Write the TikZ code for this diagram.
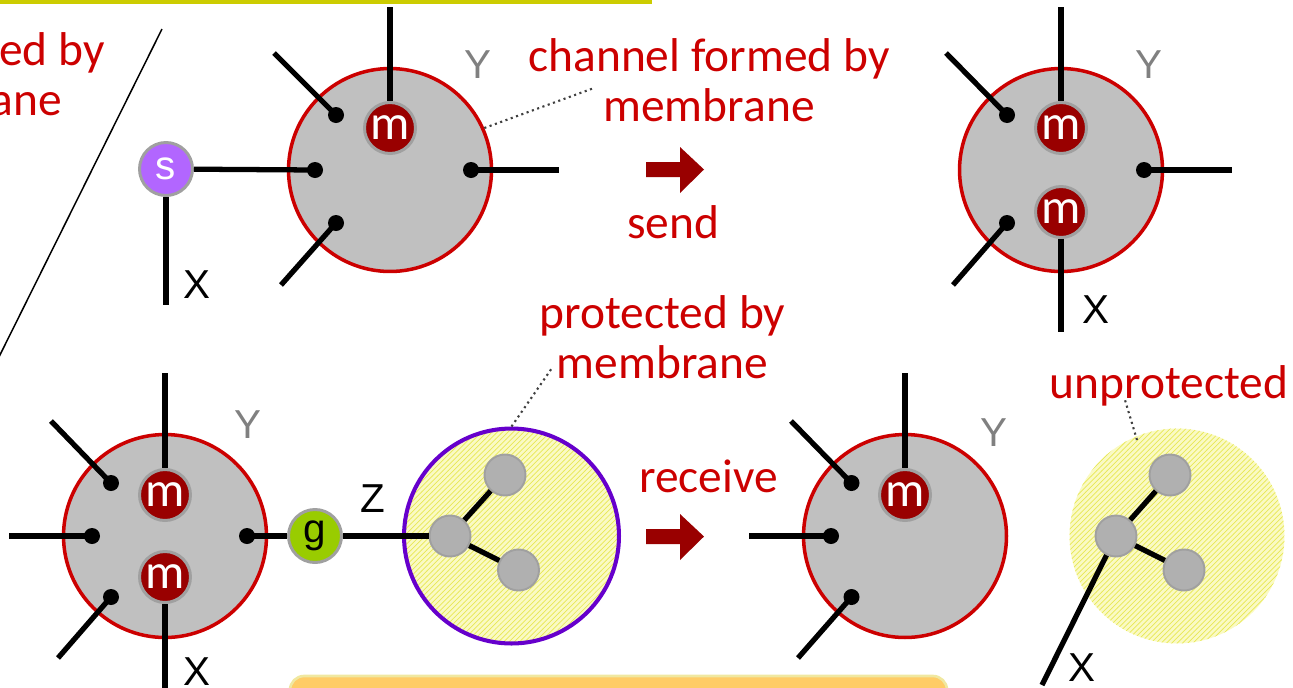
\documentclass[tikz,border=0pt]{standalone}
\usepackage{fontspec}
\setmainfont{Carlito}
\newfontfamily\tagfont{Liberation Sans}
\usetikzlibrary{patterns}

\definecolor{msgred}{RGB}{153,0,0}
\definecolor{notered}{RGB}{204,0,0}
\definecolor{cellgray}{RGB}{192,192,192}
\definecolor{ringgray}{RGB}{160,160,160}
\definecolor{atomgray}{RGB}{176,176,176}
\definecolor{sendpurple}{RGB}{178,102,255}
\definecolor{getgreen}{RGB}{153,204,0}
\definecolor{podviolet}{RGB}{102,0,204}
\definecolor{paleyellow}{RGB}{250,250,196}
\definecolor{hatchyellow}{RGB}{232,232,84}
\definecolor{barolive}{RGB}{204,204,0}
\definecolor{notebox}{RGB}{255,204,102}
\definecolor{noteedge}{RGB}{240,232,160}

\tikzset{
  cell/.style={circle, minimum size=4.06cm, inner sep=0, fill=cellgray, draw=notered, line width=2pt},
  port/.style={circle, minimum size=0.32cm, inner sep=0, fill=black},
  msg/.style={circle, minimum size=1.02cm, inner sep=0, fill=msgred, draw=ringgray, line width=1.7pt,
              text=white, font=\fontsize{28}{28}\selectfont},
  ball/.style={circle, minimum size=1.06cm, inner sep=0, draw=ringgray, line width=1.7pt,
               font=\tagfont\fontsize{23}{23}\selectfont},
  pod/.style={circle, minimum size=4.3cm, inner sep=0,
              preaction={fill=paleyellow}, preaction={pattern=north east lines, pattern color=hatchyellow}},
  atom/.style={circle, minimum size=0.82cm, inner sep=0, fill=atomgray, draw=ringgray, line width=1.1pt},
  wire/.style={line width=3pt},
  tether/.style={dotted, line width=1.2pt, black!75},
  divider/.style={line width=0.85pt},
  note/.style={text=notered, font=\fontsize{27}{28.5}\selectfont, align=center, inner sep=0},
  tag/.style={font=\tagfont\fontsize{23}{23}\selectfont, inner sep=0}
}

\begin{document}
\begin{tikzpicture}[x=0.02cm, y=-0.02cm]
  \useasboundingbox (0,0) rectangle (1293,687);
  \clip (0,0) rectangle (1293,687);

  % header rule, divider and the cut off note on the left
  \fill[barolive] (0,0) rectangle (652,3.5);
  \draw[divider] (162,29) -- (-10,375);
  \node[note, anchor=base east] (left1) at (105,65) {ed by};
  \node[note, anchor=base east] (left2) at (62,115) {ane};

  % send: s on channel X
  \node[ball, fill=sendpurple, text=white] (s) at (166,169) {s};
  \coordinate (sx) at (166,305);
  \draw[wire] (s) -- (sx);
  \node[tag] (xs) at (197,285) {X};

  % membrane Y before send
  \begin{scope}[shift={(390,170)}]
    \node[cell] (y) at (0,0) {};
    \coordinate (ul) at (-116,-117);
    \coordinate (ll) at (-109,115);
    \coordinate (rr) at (169,0);
    \coordinate (tt) at (0,-163);
    \node[port] (p1) at (-54,-55) {};
    \node[port] (p2) at (-75,0) {};
    \node[port] (p3) at (-54,53) {};
    \node[port] (p4) at (81,0) {};
    \draw[wire] (p1.center) -- (ul);
    \draw[wire] (p3.center) -- (ll);
    \draw[wire] (p4.center) -- (rr);
    \draw[wire] (s) -- (p2.center);
    \node[msg] (m1) at (0,-42) {m};
    \draw[wire] (tt) -- (m1);
    \node[tag, text=gray] (ty) at (88,-105) {Y};
    \coordinate (tip) at (204,-82);
    \draw[tether] (y.24) -- (tip);
  \end{scope}
  \node[note] (chan) at (709,80) {channel formed by\\membrane};

  % send arrow
  \fill[msgred] (646,162) -- (680,162) -- (680,147) -- (704,169.5) -- (680,193) -- (680,177) -- (646,177) -- cycle;
  \node[note, anchor=base] (send) at (673,238) {send};

  % membrane Y after send
  \begin{scope}[shift={(1061,170)}]
    \node[cell] (y) at (0,0) {};
    \coordinate (ul) at (-115,-117);
    \coordinate (ll) at (-108,115);
    \coordinate (rr) at (171,0);
    \coordinate (tt) at (0,-163);
    \coordinate (bb) at (0,162);
    \node[port] (p1) at (-54,-55) {};
    \node[port] (p3) at (-54,53) {};
    \node[port] (p4) at (83,0) {};
    \draw[wire] (p1.center) -- (ul);
    \draw[wire] (p3.center) -- (ll);
    \draw[wire] (p4.center) -- (rr);
    \node[msg] (m1) at (0,-42) {m};
    \node[msg] (m2) at (0,42) {m};
    \draw[wire] (tt) -- (m1);
    \draw[wire] (m2) -- (bb);
    \node[tag, text=gray] (ty) at (88,-105) {Y};
    \node[tag] (tx) at (35,140) {X};
  \end{scope}

  % receive: g on channel Z
  \node[ball, fill=getgreen, text=black] (g) at (315,536) {g};
  \node[tag] (tz) at (373,499) {Z};

  % membrane Y before receive
  \begin{scope}[shift={(165,536)}]
    \node[cell] (y) at (0,0) {};
    \coordinate (ul) at (-114,-115);
    \coordinate (ll) at (-107,122);
    \coordinate (lf) at (-156,0);
    \coordinate (tt) at (0,-163);
    \coordinate (bb) at (0,160);
    \node[port] (p1) at (-54,-53) {};
    \node[port] (p2) at (-73,0) {};
    \node[port] (p3) at (-54,61) {};
    \node[port] (p4) at (82,0) {};
    \draw[wire] (p1.center) -- (ul);
    \draw[wire] (p2.center) -- (lf);
    \draw[wire] (p3.center) -- (ll);
    \draw[wire] (p4.center) -- (g);
    \node[msg] (m1) at (0,-41) {m};
    \node[msg] (m2) at (0,41) {m};
    \draw[wire] (tt) -- (m1);
    \draw[wire] (m2) -- (bb);
    \node[tag, text=gray] (ty) at (83,-111) {Y};
    \node[tag] (tx) at (32,136) {X};
  \end{scope}

  % value behind Z, protected
  \begin{scope}[shift={(511.5,536)}]
    \node[pod, draw=podviolet, line width=2.3pt] (z) at (0,0) {};
    \node[atom] (a0) at (-61.5,0) {};
    \node[atom] (a1) at (-6.5,-61) {};
    \node[atom] (a2) at (7,34) {};
    \draw[wire] (a0) -- (a1);
    \draw[wire] (a0) -- (a2);
    \draw[wire] (g) -- (a0);
    \coordinate (tip) at (40.5,-168);
    \draw[tether] (z.north) -- (tip);
  \end{scope}
  \node[note] (prot) at (662.5,337) {protected by\\membrane};

  % receive arrow
  \fill[msgred] (646,529) -- (680,529) -- (680,514) -- (704,536.5) -- (680,560) -- (680,544) -- (646,544) -- cycle;
  \node[note, anchor=base] (recv) at (708.5,492) {receive};

  % membrane Y after receive
  \begin{scope}[shift={(905,536)}]
    \node[cell] (y) at (0,0) {};
    \coordinate (ul) at (-114,-115);
    \coordinate (ll) at (-107,122);
    \coordinate (lf) at (-156,0);
    \coordinate (tt) at (0,-163);
    \node[port] (p1) at (-53.5,-53) {};
    \node[port] (p2) at (-74,0) {};
    \node[port] (p3) at (-53.5,61) {};
    \draw[wire] (p1.center) -- (ul);
    \draw[wire] (p2.center) -- (lf);
    \draw[wire] (p3.center) -- (ll);
    \node[msg] (m1) at (0,-41) {m};
    \draw[wire] (tt) -- (m1);
    \node[tag, text=gray] (ty) at (89,-103) {Y};
  \end{scope}

  % value handed out on X, unprotected
  \begin{scope}[shift={(1177,536)}]
    \node[pod] (u) at (0,0) {};
    \coordinate (xe) at (-135,149);
    \draw[wire] (-61,0) -- (xe);
    \node[atom] (a0) at (-61,0) {};
    \node[atom] (a1) at (-7,-61) {};
    \node[atom] (a2) at (7,34) {};
    \draw[wire] (a0) -- (a1);
    \draw[wire] (a0) -- (a2);
    \node[tag] (tx) at (-95,132) {X};
    \coordinate (foot) at (-40,-96);
    \coordinate (tip) at (-52,-136);
    \draw[tether] (foot) -- (tip);
  \end{scope}
  \node[note, anchor=base] (unprot) at (1169,398) {unprotected};

  % note card below
  \draw[fill=notebox, draw=noteedge, line width=1.5pt, rounded corners=8] (290,676) rectangle (947,720);
\end{tikzpicture}
\end{document}
